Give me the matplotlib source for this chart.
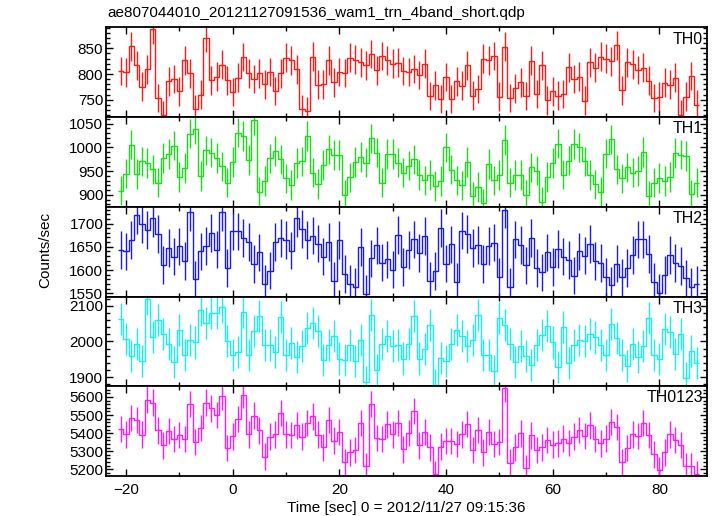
import numpy as np
import matplotlib
matplotlib.use("Agg")
import matplotlib.pyplot as plt
from matplotlib.ticker import MultipleLocator

plt.rcParams['font.family'] = ['Liberation Sans', 'DejaVu Sans']

# 1-s bin centres (sec from 2012/11/27 09:15:36)
time = np.arange(-21, 88)

th0 = [806, 803, 854, 817, 775, 809, 887, 753, 720, 786, 790, 766, 827, 801, 732, 760, 871, 788, 795, 818,
       788, 765, 793, 833, 801, 790, 801, 780, 804, 767, 801, 832, 827, 809, 731, 727, 834, 779, 780, 827,
       784, 804, 802, 832, 828, 823, 817, 839, 807, 835, 827, 820, 822, 806, 804, 810,
       798, 820, 757, 778, 751, 794, 751, 786, 777, 817, 758, 771, 830, 827, 835, 756, 853, 753, 772, 784,
       757, 826, 761, 817, 749, 766, 758, 761, 813, 790, 795, 748, 823, 812, 834, 830, 825, 856, 768, 823,
       819, 808, 812, 787, 753, 756, 783, 779, 793, 721, 756, 796, 740]
th1 = [909, 945, 1006, 944, 971, 967, 954, 926, 978, 986, 1004, 938, 957, 1029, 1039, 940, 994, 989, 978, 960,
       926, 969, 1031, 1024, 974, 1058, 907, 929, 977, 993, 975, 935, 921, 967, 971, 1024, 947, 923, 963, 996,
       984, 984, 900, 937, 969, 980, 968, 1019, 989, 926, 986, 986, 968, 947, 962, 975,
       942, 931, 942, 919, 929, 1000, 953, 931, 920, 969, 897, 917, 882, 965, 931, 942, 1016, 926, 942, 942,
       900, 958, 951, 886, 938, 967, 1008, 943, 972, 1007, 1000, 971, 942, 922, 907, 987, 1017, 954, 935, 958,
       947, 950, 990, 898, 926, 936, 929, 938, 988, 985, 982, 901, 926]
th2 = [1643, 1640, 1665, 1718, 1699, 1686, 1711, 1677, 1611, 1648, 1629, 1651, 1619, 1724, 1580, 1640, 1652, 1679,
       1644, 1725, 1604, 1683, 1683, 1669, 1661, 1613, 1638, 1571, 1599, 1661, 1669, 1665, 1642, 1711, 1688, 1664,
       1674, 1657, 1629, 1661, 1576, 1664, 1591, 1571, 1563, 1650, 1548, 1625, 1653, 1616, 1623, 1601, 1676, 1607,
       1643, 1666,
       1637, 1673, 1576, 1598, 1690, 1614, 1655, 1575, 1685, 1678, 1647, 1654, 1613, 1652, 1659, 1586, 1730, 1564,
       1666, 1654, 1610, 1669, 1604, 1595, 1638, 1607, 1645, 1629, 1622, 1588, 1640, 1631, 1656, 1619, 1615, 1586,
       1567, 1614, 1584, 1604, 1633, 1666, 1666, 1634, 1574, 1551, 1590, 1632, 1615, 1608, 1582, 1564, 1569]
th3 = [2062, 2006, 1959, 1993, 1946, 2120, 2012, 2059, 2020, 1992, 1943, 2031, 1963, 2003, 1997, 2087, 2051, 2079,
       2081, 2097, 2000, 1961, 1971, 2084, 1961, 2030, 2072, 1989, 1989, 1971, 2069, 1963, 1995, 1955, 1987, 2037,
       2053, 2028, 1948, 1990, 2015, 1952, 1948, 1991, 1946, 2003, 1887, 2075, 1920, 1992, 2015, 1987, 1991, 1952,
       1992, 2071,
       1952, 1979, 2045, 1878, 1954, 1946, 1993, 2031, 2016, 1987, 2005, 2074, 1962, 1962, 1918, 2066, 2046, 1993,
       1943, 1987, 1959, 1935, 1989, 2019, 2042, 1997, 1928, 2041, 1940, 1991, 2005, 2000, 2020, 2011, 1989, 1962,
       2050, 2010, 1963, 1930, 1993, 1957, 1987, 2065, 1962, 1951, 2035, 2026, 1965, 2020, 1898, 1972, 1939]
th0123 = [5422, 5394, 5483, 5472, 5391, 5585, 5569, 5415, 5332, 5411, 5367, 5389, 5367, 5561, 5350, 5428, 5569, 5537,
          5500, 5604, 5317, 5382, 5478, 5611, 5394, 5496, 5415, 5270, 5380, 5394, 5511, 5394, 5389, 5443, 5380, 5456,
          5493, 5391, 5322, 5472, 5359, 5406, 5241, 5293, 5306, 5457, 5217, 5561, 5372, 5367, 5448, 5394, 5456, 5311,
          5400, 5522,
          5332, 5407, 5322, 5174, 5326, 5356, 5356, 5339, 5394, 5450, 5307, 5417, 5293, 5407, 5341, 5350, 5648, 5237,
          5322, 5398, 5206, 5387, 5306, 5322, 5363, 5337, 5343, 5370, 5346, 5380, 5417, 5385, 5443, 5367, 5344, 5370,
          5461, 5435, 5239, 5317, 5394, 5385, 5456, 5389, 5283, 5194, 5293, 5394, 5361, 5335, 5217, 5217, 5174]

# typical 1-sigma error per band (counts/sec)
err_th0, err_th1, err_th2, err_th3, err_th0123 = 28, 31, 40.5, 45, 73.5

panels = [
    ("TH0", th0, err_th0, "#ff1a1a", (716, 891), 50, 10),
    ("TH1", th1, err_th1, "#1add1a", (875, 1064), 50, 10),
    ("TH2", th2, err_th2, "#1a1aee", (1543, 1736), 50, 10),
    ("TH3", th3, err_th3, "#1aeeee", (1874, 2126), 100, 20),
    ("TH0123", th0123, err_th0123, "#ff1aff", (5163, 5659), 100, 20),
]

fig = plt.figure(figsize=(7.17, 5.16), dpi=100)
axes = fig.subplots(5, 1, sharex=True, gridspec_kw=dict(hspace=0))
fig.subplots_adjust(left=0.148, right=0.986, top=0.947, bottom=0.0775)

edges = np.append(time - 0.5, time[-1] + 0.5)

for ax, (name, vals, err, col, ylim, major, minor) in zip(axes, panels):
    ax.stairs(vals, edges, baseline=None, color=col, lw=1.0)
    ax.errorbar(time, vals, yerr=err, fmt='none', ecolor=col, elinewidth=1.0, capsize=0)
    ax.set_ylim(*ylim)
    ax.yaxis.set_major_locator(MultipleLocator(major))
    ax.yaxis.set_minor_locator(MultipleLocator(minor))
    ax.xaxis.set_major_locator(MultipleLocator(20))
    ax.xaxis.set_minor_locator(MultipleLocator(10))
    ax.tick_params(which='both', direction='in', top=True, right=True, width=1.0, labelsize=11)
    ax.tick_params(which='major', length=5, pad=2)
    ax.tick_params(which='minor', length=3)
    ax.tick_params(axis='x', pad=5)
    for sp in ax.spines.values():
        sp.set_linewidth(1.3)
    ax.annotate(name, xy=(1, 1), xycoords='axes fraction', xytext=(-3, -3),
                textcoords='offset points', ha='right', va='top', fontsize=11.5)

axes[-1].set_xlim(-23.75, 88.9)
axes[-1].set_xlabel("Time [sec] 0 = 2012/11/27 09:15:36", fontsize=11, labelpad=3)
fig.text(0.063, 0.515, "Counts/sec", rotation=90, ha='center', va='center', fontsize=11)
fig.text(107 / 717, 1 - 13 / 516, "ae807044010_20121127091536_wam1_trn_4band_short.qdp",
         ha='left', va='center', fontsize=11)

fig.savefig("out.png", dpi=100)
